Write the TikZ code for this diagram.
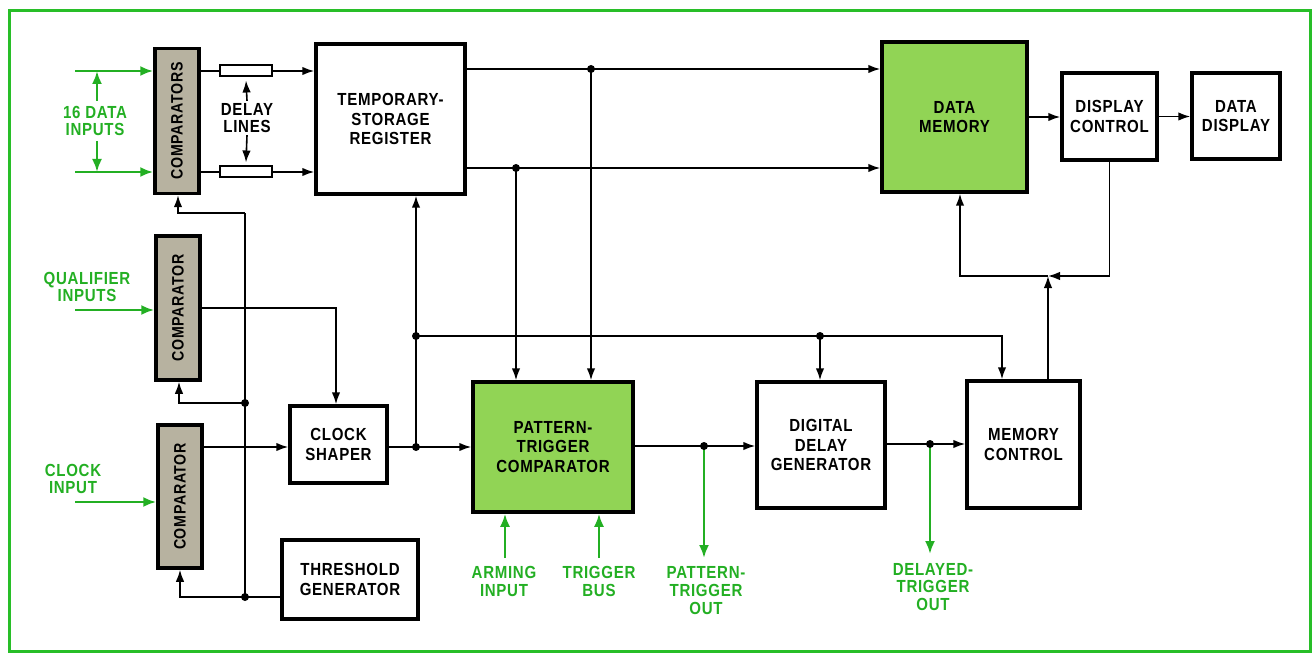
\documentclass[tikz,border=0pt]{standalone}
\usepackage{fontspec}
\setmainfont{Liberation Sans}[FakeStretch=0.86,LetterSpace=4]
\usetikzlibrary{arrows.meta}
\definecolor{framegreen}{RGB}{40,190,40}
\definecolor{lblgreen}{RGB}{35,175,35}
\definecolor{limefill}{RGB}{145,212,85}
\definecolor{tanfill}{RGB}{183,178,160}
\newcommand\txtfont{\fontsize{17.5}{19.5}\selectfont\bfseries}
\newcommand\lblfont{\fontsize{17.5}{17.8}\selectfont\bfseries}
\tikzset{
 blk/.style={draw=black, line width=3.5pt, fill=white, inner sep=0pt, align=center, font=\txtfont},
 grnblk/.style={blk, fill=limefill},
 cmpbox/.style={draw=black, line width=3.5pt, fill=tanfill, inner sep=0pt, minimum width=44pt, font=\fontsize{16.5}{17}\selectfont\bfseries},
 dlybox/.style={draw=black, line width=2pt, fill=white, minimum width=52pt, minimum height=11pt, inner sep=0pt},
 wire/.style={line width=1.6pt, -{Latex[length=12pt,width=8.5pt]}},
 plainwire/.style={line width=1.6pt},
 gwire/.style={draw=lblgreen, line width=2.4pt, -{Latex[length=13pt,width=10pt]}},
 glbl/.style={text=lblgreen, align=center, font=\lblfont, inner sep=0pt},
 tlbl/.style={text=black, align=center, font=\lblfont, inner sep=0pt},
 jdot/.style={circle, fill=black, inner sep=0pt, minimum size=8pt},
}
\begin{document}
\begin{tikzpicture}[x=1pt,y=-1pt]
\useasboundingbox (0,0) rectangle (1315,655);
\draw[framegreen, line width=3pt] (9,11) rectangle (1310,651);

% blocks
\node[cmpbox, minimum height=145pt] (cmpD) at (177,121) {\rotatebox{90}{COMPARATORS}};
\node[cmpbox, minimum height=144pt] (cmpQ) at (178,308) {\rotatebox{90}{COMPARATOR}};
\node[cmpbox, minimum height=143pt] (cmpC) at (180,496.5) {\rotatebox{90}{COMPARATOR}};
\node[dlybox] (dl1) at (246,71) {};
\node[dlybox] (dl2) at (246,172) {};
\node[blk, minimum width=149pt, minimum height=150pt] (tsr) at (390.5,119) {TEMPORARY-\\STORAGE\\REGISTER};
\node[grnblk, minimum width=145pt, minimum height=150pt] (dm) at (954.5,117) {DATA\\MEMORY};
\node[blk, minimum width=95pt, minimum height=87pt] (dc) at (1109.5,116.5) {DISPLAY\\CONTROL};
\node[blk, minimum width=88pt, minimum height=86pt] (dd) at (1236,116) {DATA\\DISPLAY};
\node[blk, minimum width=97pt, minimum height=77pt] (cs) at (338.5,444.5) {CLOCK\\SHAPER};
\node[blk, minimum width=136pt, minimum height=79pt] (tg) at (350,579.5) {THRESHOLD\\GENERATOR};
\node[grnblk, minimum width=160pt, minimum height=130pt] (ptc) at (553,447) {PATTERN-\\TRIGGER\\COMPARATOR};
\node[blk, minimum width=128pt, minimum height=126pt] (ddg) at (821,445) {DIGITAL\\DELAY\\GENERATOR};
\node[blk, minimum width=113pt, minimum height=127pt] (mc) at (1023.5,444.5) {MEMORY\\CONTROL};

% labels
\node[glbl] (din) at (95,121) {16 DATA\\INPUTS};
\node[tlbl] (dlt) at (247,118) {DELAY\\LINES};
\node[glbl] (qlbl) at (87,287) {QUALIFIER\\INPUTS};
\node[glbl] (clbl) at (73,479) {CLOCK\\INPUT};
\node[glbl] (arm) at (504,581.5) {ARMING\\INPUT};
\node[glbl] (tbus) at (599,581.5) {TRIGGER\\BUS};
\node[glbl] (pto) at (706,590.5) {PATTERN-\\TRIGGER\\OUT};
\node[glbl] (dto) at (933,587) {DELAYED-\\TRIGGER\\OUT};

% coordinates
\coordinate (di1) at (75,71);
\coordinate (di2) at (75,172);
\coordinate (da1) at (97,101);
\coordinate (da2) at (97,141);
\coordinate (qi) at (75,310);
\coordinate (ci) at (75,502);
\coordinate (j1) at (591,69);
\coordinate (j2) at (516,168);
\coordinate (j3) at (416,447);
\coordinate (j4) at (416,336);
\coordinate (j5) at (1048,276);
\coordinate (j6) at (820,336);
\coordinate (j7) at (704,446);
\coordinate (j8) at (930,444);
\coordinate (j9) at (245,403);
\coordinate (j10) at (245,597);
\coordinate (k1) at (960,276);
\coordinate (k2) at (1002,336);
\coordinate (k3) at (336,308);
\coordinate (k4) at (245,213);
\coordinate (k5) at (178,213);
\coordinate (k6) at (179,403);
\coordinate (k7) at (180,597);
\coordinate (pte) at (704,558);
\coordinate (dte) at (930,554);
\coordinate (ars) at (505,558);
\coordinate (tbs) at (599,558);

% green inputs/outputs
\draw[gwire] (di1) -- (di1 -| cmpD.west);
\draw[gwire] (di2) -- (di2 -| cmpD.west);
\draw[gwire] (da1) -- (da1 |- di1);
\draw[gwire] (da2) -- (da2 |- di2);
\draw[gwire] (qi) -- (qi -| cmpQ.west);
\draw[gwire] (ci) -- (ci -| cmpC.west);
\draw[gwire] (ars) -- (ars |- ptc.south);
\draw[gwire] (tbs) -- (tbs |- ptc.south);
\draw[gwire] (j7) -- (pte);
\draw[gwire] (j8) -- (dte);

% delay lines
\draw[plainwire] (cmpD.east |- dl1) -- (dl1.west);
\draw[plainwire] (cmpD.east |- dl2) -- (dl2.west);
\draw[wire] (dl1.east) -- (dl1.east -| tsr.west);
\draw[wire] (dl2.east) -- (dl2.east -| tsr.west);
\draw[wire] ([yshift=2pt]dlt.north) -- ([yshift=-3pt]dl1.south);
\draw[wire] ([yshift=-2pt]dlt.south) -- ([yshift=3pt]dl2.north);

% register to memory
\draw[wire] (tsr.east |- j1) -- (j1 -| dm.west);
\draw[wire] (tsr.east |- j2) -- (j2 -| dm.west);
\draw[wire] (j1) -- (j1 |- ptc.north);
\draw[wire] (j2) -- (j2 |- ptc.north);
\draw[wire] (dm.east) -- (dm.east -| dc.west);
\draw[wire] (dc.east) -- (dc.east -| dd.west);
\draw[wire] (dc.south) |- (j5);
\draw[wire] (j5 |- mc.north) -- (j5);
\draw[wire] (j5) -- (k1) -- (k1 |- dm.south);

% clock path
\draw[wire] (cmpQ.east |- k3) -- (k3) -- (k3 |- cs.north);
\draw[wire] (cmpC.east |- j3) -- (j3 -| cs.west);
\draw[wire] (cs.east |- j3) -- (j3 -| ptc.west);
\draw[wire] (j3) -- (j3 |- tsr.south);
\draw[wire] (j4) -- (k2) -- (k2 |- mc.north);
\draw[wire] (j6) -- (j6 |- ddg.north);
\draw[wire] (ptc.east |- j7) -- (j7 -| ddg.west);
\draw[wire] (ddg.east |- j8) -- (j8 -| mc.west);

% threshold distribution
\draw[plainwire] (j10) -- (k4);
\draw[wire] (k4) -- (k5) -- (k5 |- cmpD.south);
\draw[wire] (j9) -- (k6) -- (k6 |- cmpQ.south);
\draw[wire] (tg.west |- j10) -- (k7) -- (k7 |- cmpC.south);

% dots
\node[jdot] (n1) at (j1) {};
\node[jdot] (n2) at (j2) {};
\node[jdot] (n3) at (j3) {};
\node[jdot] (n4) at (j4) {};
\node[jdot] (n6) at (j6) {};
\node[jdot] (n7) at (j7) {};
\node[jdot] (n8) at (j8) {};
\node[jdot] (n9) at (j9) {};
\node[jdot] (n10) at (j10) {};
\end{tikzpicture}
\end{document}
